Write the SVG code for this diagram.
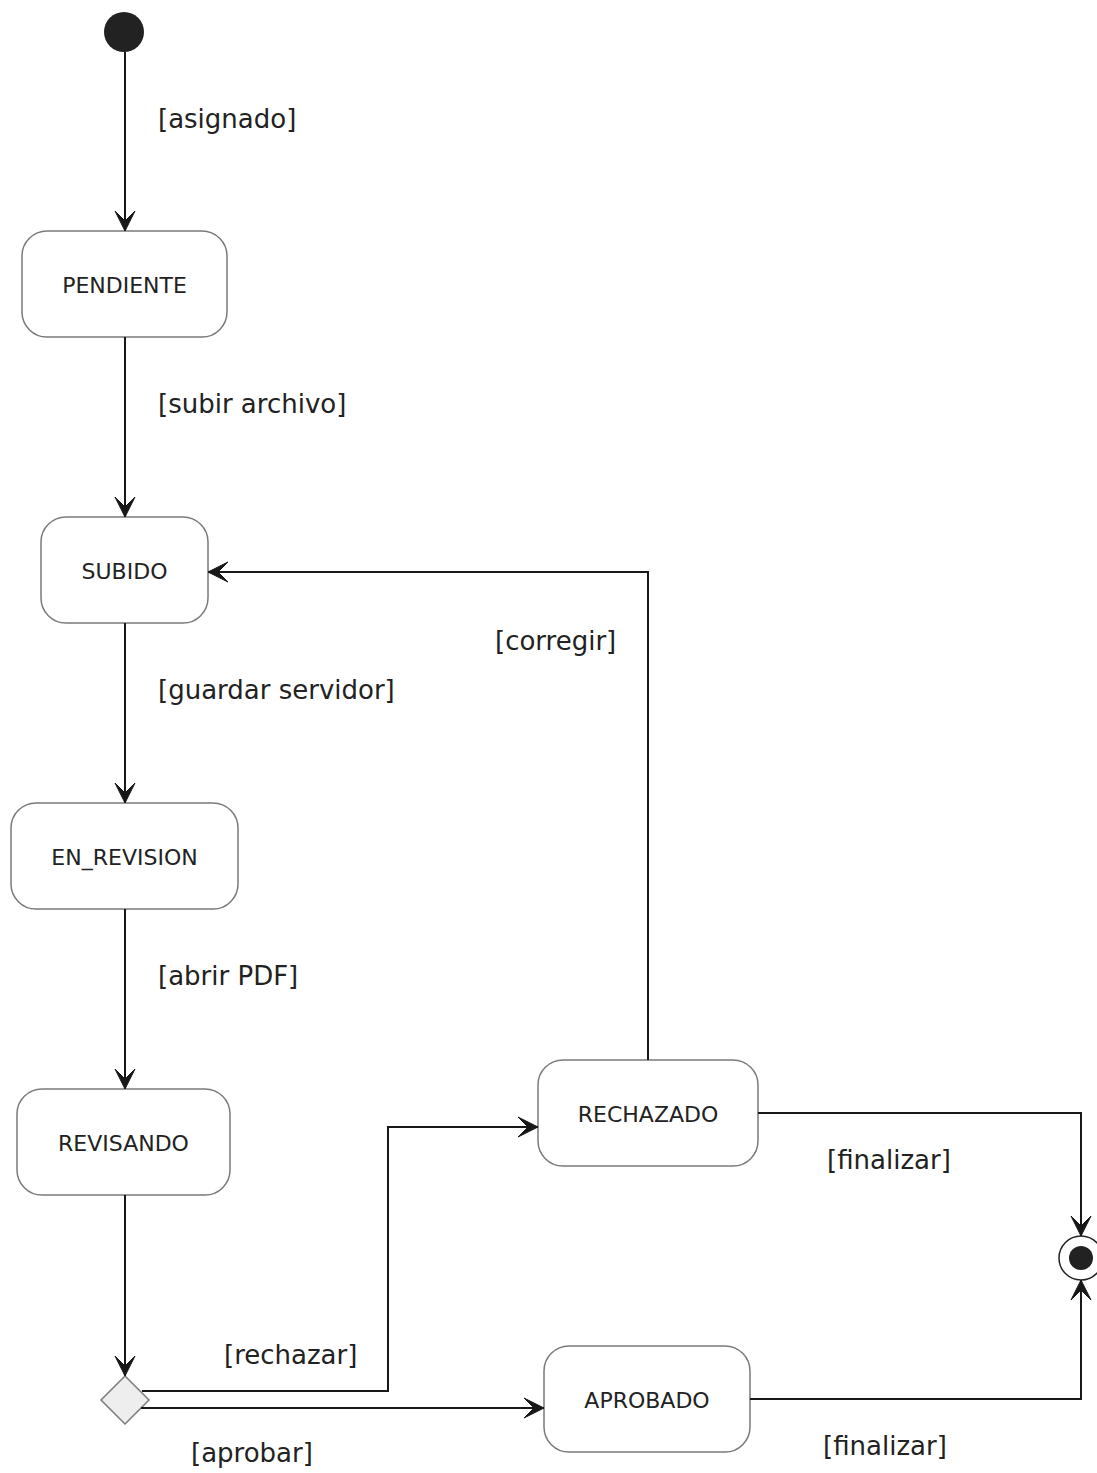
<svg xmlns="http://www.w3.org/2000/svg" width="1097" height="1473" viewBox="0 0 1097 1473">
<style>
.node rect{fill:#fff;stroke:#7a7a7a;stroke-width:1.5}
.node text{font-family:"DejaVu Sans",sans-serif;font-size:22px;fill:#222;text-anchor:middle}
.lbl{font-family:"DejaVu Sans",sans-serif;font-size:26px;fill:#222}
.edge{fill:none;stroke:#181818;stroke-width:2}
</style>
<defs>
<marker id="ah" markerUnits="userSpaceOnUse" viewBox="-22 -11 24 22" refX="0" refY="0" markerWidth="24" markerHeight="22" orient="auto">
<polygon points="0,0 -20,-10 -10,0 -20,10" fill="#181818" stroke="#181818" stroke-width="1" stroke-linejoin="miter"/>
</marker>
</defs>
<g id="start"><circle cx="124" cy="32" r="20" fill="#222"/></g>
<g id="PENDIENTE" class="node"><rect x="22" y="231" width="205" height="106" rx="25"/><text x="124.5" y="293">PENDIENTE</text></g>
<g id="SUBIDO" class="node"><rect x="41" y="517" width="167" height="106" rx="25"/><text x="124.5" y="579">SUBIDO</text></g>
<g id="EN_REVISION" class="node"><rect x="11" y="803" width="227" height="106" rx="25"/><text x="124.5" y="865">EN_REVISION</text></g>
<g id="REVISANDO" class="node"><rect x="17" y="1089" width="213" height="106" rx="25"/><text x="123.5" y="1151">REVISANDO</text></g>
<g id="RECHAZADO" class="node"><rect x="538" y="1060" width="220" height="106" rx="25"/><text x="648" y="1122">RECHAZADO</text></g>
<g id="APROBADO" class="node"><rect x="544" y="1346" width="206" height="106" rx="25"/><text x="647" y="1408">APROBADO</text></g>
<g id="decision"><polygon points="125,1376 149,1400 125,1424 101,1400" fill="#eee" stroke="#7a7a7a" stroke-width="1.5"/></g>
<g id="end"><circle cx="1081" cy="1258" r="22" fill="#fff" stroke="#222" stroke-width="1.5"/><circle cx="1081" cy="1258" r="12" fill="#222"/></g>
<g id="connectors">
<path class="edge" d="M125,52 V231" marker-end="url(#ah)"/>
<path class="edge" d="M125,337 V517" marker-end="url(#ah)"/>
<path class="edge" d="M125,623 V803" marker-end="url(#ah)"/>
<path class="edge" d="M125,909 V1089" marker-end="url(#ah)"/>
<path class="edge" d="M125,1195 V1376" marker-end="url(#ah)"/>
<path class="edge" d="M142,1391 H388 V1127 H538" marker-end="url(#ah)"/>
<path class="edge" d="M141,1408 H544" marker-end="url(#ah)"/>
<path class="edge" d="M648,1060 V572 H208" marker-end="url(#ah)"/>
<path class="edge" d="M758,1113 H1081 V1236" marker-end="url(#ah)"/>
<path class="edge" d="M750,1399 H1081 V1280" marker-end="url(#ah)"/>
</g>
<g id="labels">
<text class="lbl" x="158" y="128">[asignado]</text>
<text class="lbl" x="158" y="413">[subir archivo]</text>
<text class="lbl" x="158" y="699">[guardar servidor]</text>
<text class="lbl" x="158" y="985">[abrir PDF]</text>
<text class="lbl" x="495" y="650">[corregir]</text>
<text class="lbl" x="224" y="1364">[rechazar]</text>
<text class="lbl" x="191" y="1462">[aprobar]</text>
<text class="lbl" x="827" y="1169">[finalizar]</text>
<text class="lbl" x="823" y="1455">[finalizar]</text>
</g>
</svg>
